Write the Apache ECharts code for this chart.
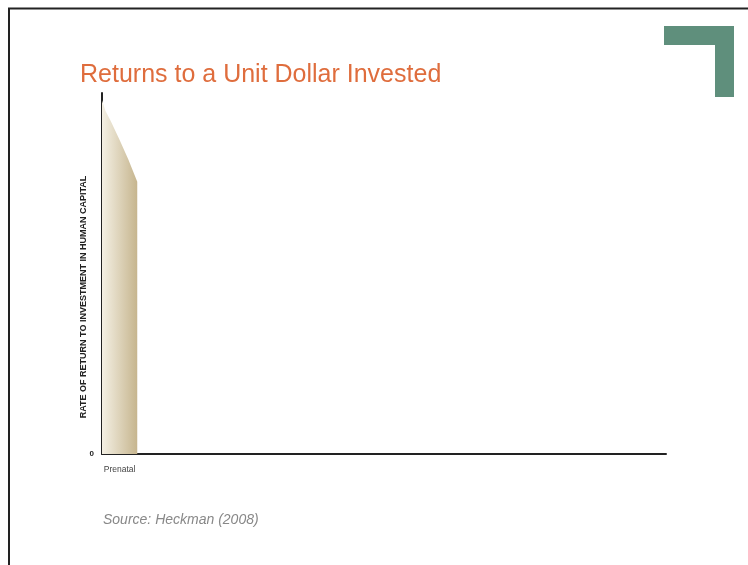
<!DOCTYPE html>
<html>
<head>
<meta charset="utf-8">
<script src="https://cdn.jsdelivr.net/npm/echarts@6/dist/echarts.min.js"></script>
<style>
  html, body { margin: 0; padding: 0; background: #fff; }
  #chart { width: 748px; height: 565px; }
</style>
</head>
<body>
<div id="chart"></div>
<script>
// age stages (only the first one is shown on this slide)
const stageLabels = ['Prenatal']
const stageCenters = [0.5]

// rate of return curve over the prenatal stage
const ageSteps = [0, 0.1, 0.25, 0.5, 0.75, 1]
const returnRates = [9.8, 9.5, 9.22, 8.7, 8.15, 7.54]

const yTicks = [0]

const myChart = echarts.init(document.getElementById('chart'))

const option = {
  backgroundColor: '#fff',
  animation: false,
  title: {
    text: 'Returns to a Unit Dollar Invested',
    left: 75,
    top: 58,
    textStyle: {
      color: '#df6d3d',
      fontFamily: 'Liberation Sans, Arial, sans-serif',
      fontSize: 25,
      fontWeight: 'normal'
    }
  },
  grid: { left: 102, right: 82, top: 93, bottom: 111 },
  xAxis: {
    type: 'value',
    min: 0,
    max: 16,
    axisLine: { lineStyle: { color: '#222', width: 2 } },
    axisTick: { show: false },
    splitLine: { show: false },
    axisLabel: {
      customValues: stageCenters,
      formatter: (v) => stageLabels[stageCenters.indexOf(v)] || '',
      color: '#444',
      fontSize: 8.5,
      fontFamily: 'Liberation Sans, Arial, sans-serif',
      margin: 11
    }
  },
  yAxis: {
    type: 'value',
    min: 0,
    max: 10,
    axisLine: { show: true, lineStyle: { color: '#222', width: 2 } },
    axisTick: { show: false },
    splitLine: { show: false },
    axisLabel: {
      customValues: yTicks,
      color: '#222',
      fontSize: 8,
      fontWeight: 'bold',
      margin: 8
    }
  },
  series: [
    {
      type: 'line',
      smooth: false,
      symbol: 'none',
      data: ageSteps.map((x, i) => [x, returnRates[i]]),
      lineStyle: { width: 0 },
      areaStyle: {
        opacity: 1,
        color: new echarts.graphic.LinearGradient(0, 0, 1, 0, [
          { offset: 0, color: '#f4f0e4' },
          { offset: 1, color: '#c6b58e' }
        ])
      }
    }
  ],
  graphic: [
    // slide frame
    { type: 'line', shape: { x1: 8, y1: 8.5, x2: 748, y2: 8.5 }, style: { stroke: '#222', lineWidth: 2 } },
    { type: 'line', shape: { x1: 9, y1: 8, x2: 9, y2: 565 }, style: { stroke: '#222', lineWidth: 2 } },
    // green corner mark
    {
      type: 'polygon',
      shape: { points: [[664, 26], [734, 26], [734, 97], [715, 97], [715, 45], [664, 45]] },
      style: { fill: '#5f8f7c' }
    },
    // y axis title
    {
      type: 'text',
      x: 83.5,
      y: 297,
      rotation: Math.PI / 2,
      style: {
        text: 'RATE OF RETURN TO INVESTMENT IN HUMAN CAPITAL',
        fill: '#222',
        font: 'bold 9px Liberation Sans, Arial, sans-serif',
        align: 'center',
        verticalAlign: 'middle'
      }
    },
    {
      type: 'text',
      x: 103,
      y: 520,
      style: {
        text: 'Source: Heckman (2008)',
        fill: '#888',
        font: 'italic 14px Liberation Sans, Arial, sans-serif',
        verticalAlign: 'middle'
      }
    }
  ]
}

myChart.setOption(option)
window.addEventListener('resize', () => myChart.resize())
</script>
</body>
</html>
